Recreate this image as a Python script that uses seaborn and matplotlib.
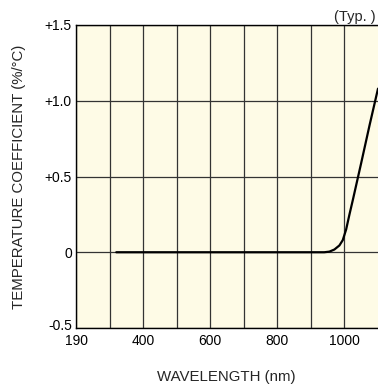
import matplotlib
matplotlib.use("Agg")
import matplotlib.pyplot as plt
import matplotlib.transforms as mtransforms
import seaborn as sns
import pandas as pd

wavelength = [320, 940, 955, 970, 985, 995, 1005, 1015, 1025, 1050, 1075, 1100]
coefficient = [0.0, 0.0, 0.004, 0.018, 0.045, 0.08, 0.15, 0.25, 0.345, 0.59, 0.84, 1.08]
xtick_pos = [200, 400, 600, 800, 1000]
xtick_labels = ["190", "400", "600", "800", "1000"]
ytick_pos = [-0.5, 0, 0.5, 1.0, 1.5]
ytick_labels = ["-0.5", "0", "+0.5", "+1.0", "+1.5"]

df = pd.DataFrame({"wavelength": wavelength, "coef": coefficient})

sns.set_theme(style="white")
plt.rcParams["font.family"] = ["Liberation Sans", "DejaVu Sans"]

fig = plt.figure(figsize=(3.78, 3.85), dpi=100)
ax = fig.add_axes([76/378, 57/385, 302/378, 303/385])
ax.set_facecolor("#FEFBE6")

sns.lineplot(data=df, x="wavelength", y="coef", ax=ax, color="black", linewidth=1.6, zorder=3)

ax.set_xlim(200, 1100)
ax.set_ylim(-0.5, 1.5)
ax.set_xticks(xtick_pos)
ax.set_xticklabels(xtick_labels)
ax.set_xticks(list(range(300, 1100, 100)), minor=True)
ax.set_yticks(ytick_pos)
ax.set_yticklabels(ytick_labels)
ax.grid(True, which="both", axis="x", color="#333333", linewidth=0.9)
ax.grid(True, which="major", axis="y", color="#333333", linewidth=0.9)
ax.tick_params(axis="both", which="both", length=0, labelsize=10, colors="black", pad=3)
ax.tick_params(axis="x", pad=4)

# nudge the bottom y label up slightly so it clears the "190" label
lbl = ax.get_yticklabels()[0]
lbl.set_transform(lbl.get_transform() + mtransforms.ScaledTranslation(0, 3/100, fig.dpi_scale_trans))

for s in ["left", "bottom", "top"]:
    ax.spines[s].set_color("black")
    ax.spines[s].set_linewidth(1.0)
ax.spines["right"].set_visible(False)

ax.set_xlabel("")
ax.set_ylabel("")
fig.text(226/378, 1 - 377/385, "WAVELENGTH (nm)", ha="center", va="center", fontsize=10.8)
fig.text(19/378, 1 - 177/385, "TEMPERATURE COEFFICIENT (%/°C)", ha="center", va="center",
         rotation=90, fontsize=10.8)
fig.text(376/378, 1 - 17/385, "(Typ. )", ha="right", va="center", fontsize=10.5)

fig.savefig("out.png", dpi=100)
